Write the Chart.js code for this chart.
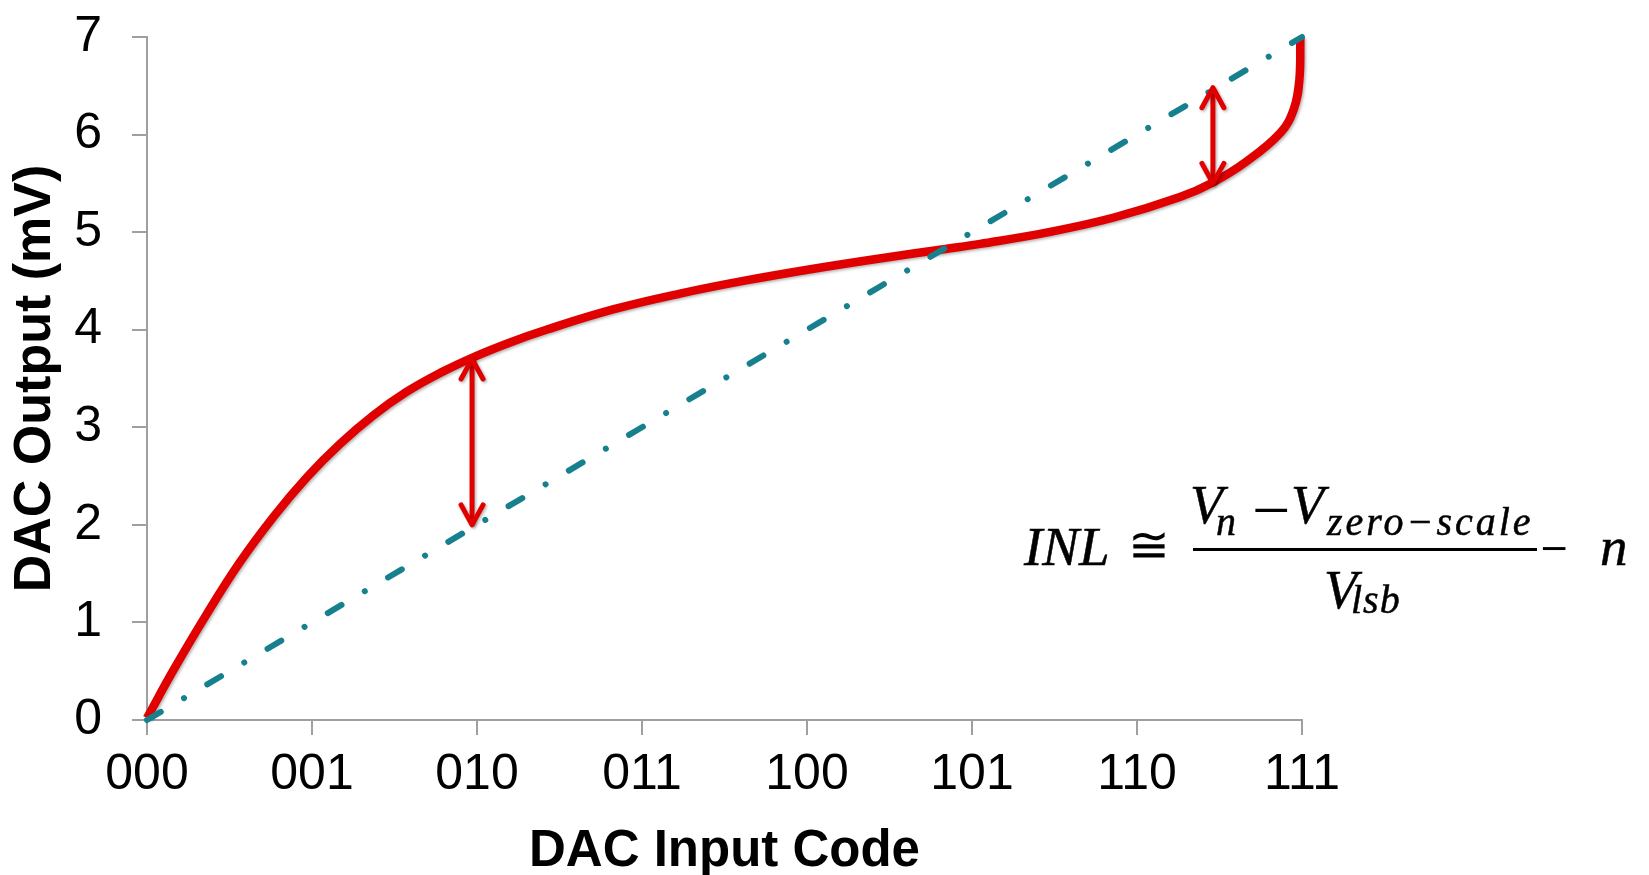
<!DOCTYPE html>
<html>
<head>
<meta charset="utf-8">
<script src="https://cdn.jsdelivr.net/npm/chart.js@4.4.1/dist/chart.umd.min.js"></script>
<style>
  html, body { margin: 0; padding: 0; background: #fff; }
  #wrap { position: relative; width: 1649px; height: 875px; overflow: hidden; }
  #c { position: absolute; left: 0; top: 0; }
  .f { position: absolute; color: #000; white-space: nowrap; -webkit-text-stroke: 0.5px #000; }
  .bar { position: absolute; background: #000; }
</style>
</head>
<body>
<div id="wrap">
  <canvas id="c" width="1649" height="875"></canvas>
  <div id="formula"></div>
</div>
<script>
// ---------------- data ----------------
const codeLabels = ['000', '001', '010', '011', '100', '101', '110', '111'];
const yTickValues = [0, 1, 2, 3, 4, 5, 6, 7];

// ideal (straight) transfer line
const idealCode   = [0, 7];
const idealOutput = [0, 7];

// actual (non-linear) transfer curve
const actualCode   = [0, 0.16, 0.36, 0.56, 0.77, 0.97, 1.17, 1.37, 1.57, 1.78, 1.98, 2.20, 2.42, 2.83, 3.23, 3.63, 4.04, 4.44, 4.85, 5.05, 5.45, 5.86, 6.26, 6.46, 6.66, 6.87, 6.95, 6.984, 6.99];
const actualOutput = [0.02, 0.51, 1.08, 1.61, 2.09, 2.49, 2.83, 3.12, 3.36, 3.56, 3.72, 3.87, 4.00, 4.21, 4.37, 4.505, 4.625, 4.73, 4.83, 4.88, 4.995, 5.15, 5.36, 5.51, 5.72, 6.02, 6.26, 6.56, 7.00];

// INL double arrows (between ideal line and actual curve)
const arrowCode   = [1.97, 6.46];
const arrowIdeal  = [2.00, 6.48];
const arrowActual = [3.70, 5.50];

// ---------------- chart ----------------
const RED = '#E00000';
const TEAL = '#17808E';
const AXIS = '#9f9f9f';

const toXY = (xs, ys) => xs.map((v, i) => ({ x: v, y: ys[i] }));

const shadowPlugin = {
  id: 'redShadow',
  beforeDatasetDraw(chart, args) {
    if (args.index === 1) {
      const ctx = chart.ctx;
      ctx.save();
      ctx.shadowColor = 'rgba(0,0,0,0.30)';
      ctx.shadowBlur = 3;
      ctx.shadowOffsetX = 1.5;
      ctx.shadowOffsetY = 1.5;
    }
  },
  afterDatasetDraw(chart, args) {
    if (args.index === 1) chart.ctx.restore();
  }
};

const arrowPlugin = {
  id: 'inlArrows',
  afterDatasetsDraw(chart) {
    const { ctx, scales: { x, y } } = chart;
    ctx.save();
    ctx.strokeStyle = RED;
    ctx.lineWidth = 5;
    ctx.lineCap = 'round';
    ctx.lineJoin = 'round';
    ctx.shadowColor = 'rgba(0,0,0,0.30)';
    ctx.shadowBlur = 3;
    ctx.shadowOffsetX = 1.5;
    ctx.shadowOffsetY = 1.5;
    const hw = 11, hl = 20;
    for (let i = 0; i < arrowCode.length; i++) {
      const px = x.getPixelForValue(arrowCode[i]);
      const p1 = y.getPixelForValue(arrowIdeal[i]);
      const p2 = y.getPixelForValue(arrowActual[i]);
      const top = Math.min(p1, p2), bot = Math.max(p1, p2);
      ctx.beginPath();
      ctx.moveTo(px, top + 2);
      ctx.lineTo(px, bot - 2);
      ctx.stroke();
      ctx.beginPath();
      ctx.moveTo(px - hw, top + hl);
      ctx.lineTo(px, top);
      ctx.lineTo(px + hw, top + hl);
      ctx.stroke();
      ctx.beginPath();
      ctx.moveTo(px - hw, bot - hl);
      ctx.lineTo(px, bot);
      ctx.lineTo(px + hw, bot - hl);
      ctx.stroke();
    }
    ctx.restore();
  }
};

Chart.defaults.font.family = '"Liberation Sans", Arial, sans-serif';
Chart.defaults.color = '#000';

new Chart(document.getElementById('c'), {
  type: 'line',
  data: {
    datasets: [
      {
        label: 'Ideal',
        data: toXY(idealCode, idealOutput),
        borderColor: TEAL,
        borderWidth: 6,
        borderDash: [16, 27, 0.01, 27],
        borderCapStyle: 'round',
        pointRadius: 0,
        tension: 0,
        clip: false
      },
      {
        label: 'Actual',
        data: toXY(actualCode, actualOutput),
        borderColor: RED,
        borderWidth: 8.5,
        borderCapStyle: 'butt',
        tension: 0.4,
        pointRadius: 0,
        clip: false
      }
    ]
  },
  options: {
    responsive: false,
    animation: false,
    devicePixelRatio: 1,
    layout: { padding: { top: 37, right: 347, left: 0, bottom: 0 } },
    plugins: { legend: { display: false }, tooltip: { enabled: false } },
    scales: {
      x: {
        type: 'linear',
        min: 0, max: 7,
        ticks: {
          stepSize: 1,
          autoSkip: false,
          maxRotation: 0,
          padding: 10,
          font: { size: 50 },
          color: '#000',
          callback: (v) => codeLabels[Math.round(v)]
        },
        grid: { drawOnChartArea: false, drawTicks: true, tickLength: 15, color: AXIS, lineWidth: 2 },
        border: { color: AXIS, width: 2 },
        title: {
          display: true,
          text: 'DAC Input Code',
          color: '#000',
          font: { size: 51, weight: 'bold', lineHeight: 1 },
          padding: { top: 0, bottom: -2 }
        },
        afterFit: (s) => { s.height = 155; s.paddingLeft = 0; s.paddingRight = 0; }
      },
      y: {
        type: 'linear',
        min: 0, max: 7,
        afterBuildTicks: (s) => { s.ticks = yTickValues.map(v => ({ value: v })); },
        ticks: {
          stepSize: 1,
          padding: 30,
          font: { size: 50 },
          color: '#000'
        },
        grid: { drawOnChartArea: false, drawTicks: true, tickLength: 15, color: AXIS, lineWidth: 2 },
        border: { color: AXIS, width: 2 },
        title: {
          display: true,
          text: 'DAC Output (mV)',
          color: '#000',
          font: { size: 52, weight: 'bold', lineHeight: 1 },
          padding: { top: 10, bottom: 0 }
        },
        afterFit: (s) => { s.width = 147; s.paddingTop = 0; s.paddingBottom = 0; }
      }
    }
  },
  plugins: [shadowPlugin, arrowPlugin]
});

// ---------------- formula (HTML text) ----------------
const formula = document.getElementById('formula');
const mctx = document.createElement('canvas').getContext('2d');
function place(text, x, base, size, opts = {}) {
  const fam = opts.family || '"Liberation Serif", "DejaVu Serif", serif';
  const style = opts.upright ? 'normal' : 'italic';
  const font = style + ' ' + size + 'px ' + fam;
  mctx.font = font;
  const m = mctx.measureText(text);
  const asc = m.fontBoundingBoxAscent, desc = m.fontBoundingBoxDescent;
  const s = document.createElement('span');
  s.className = 'f';
  s.textContent = text;
  s.style.font = font;
  s.style.lineHeight = (asc + desc) + 'px';
  s.style.left = x + 'px';
  s.style.top = (base - asc) + 'px';
  if (opts.ls) s.style.letterSpacing = opts.ls + 'px';
  if (opts.noStroke) s.style.webkitTextStroke = '0px';
  formula.appendChild(s);
  return s;
}
// a minus sign whose ink spans [x0, x1] horizontally, centred on cy
function placeMinus(x0, x1, cy, size) {
  const fam = '"DejaVu Sans", sans-serif';
  const font = 'normal ' + size + 'px ' + fam;
  mctx.font = font;
  const m = mctx.measureText('\u2212');
  const inkL = -m.actualBoundingBoxLeft;
  const inkW = m.actualBoundingBoxRight + m.actualBoundingBoxLeft;
  const inkMid = (m.actualBoundingBoxAscent - m.actualBoundingBoxDescent) / 2;
  const sx = (x1 - x0) / inkW;
  const s = place('\u2212', 0, cy + inkMid, size, { upright: true, family: fam, noStroke: true });
  s.style.left = (x0 - inkL * sx) + 'px';
  s.style.transformOrigin = '0 0';
  s.style.transform = 'scaleX(' + sx.toFixed(3) + ')';
}
place('INL', 1024, 565, 55, { ls: 0 });
place('\u2245', 1128, 562, 50, { upright: true, family: '"DejaVu Serif", serif', noStroke: true });
place('V', 1190, 523, 54);
place('n', 1216, 535, 40);
placeMinus(1255, 1287, 510, 38);
place('V', 1291, 523, 54);
place('zero\u2212scale', 1327, 535, 40, { ls: 3 });
place('V', 1324, 608, 54);
place('lsb', 1351, 613, 40, { ls: 1 });
placeMinus(1542, 1566, 549, 36);
place('n', 1600, 565, 55);
const bar = document.createElement('div');
bar.className = 'bar';
bar.style.left = '1193px'; bar.style.top = '547.5px';
bar.style.width = '344px'; bar.style.height = '3px';
formula.appendChild(bar);
</script>
</body>
</html>
